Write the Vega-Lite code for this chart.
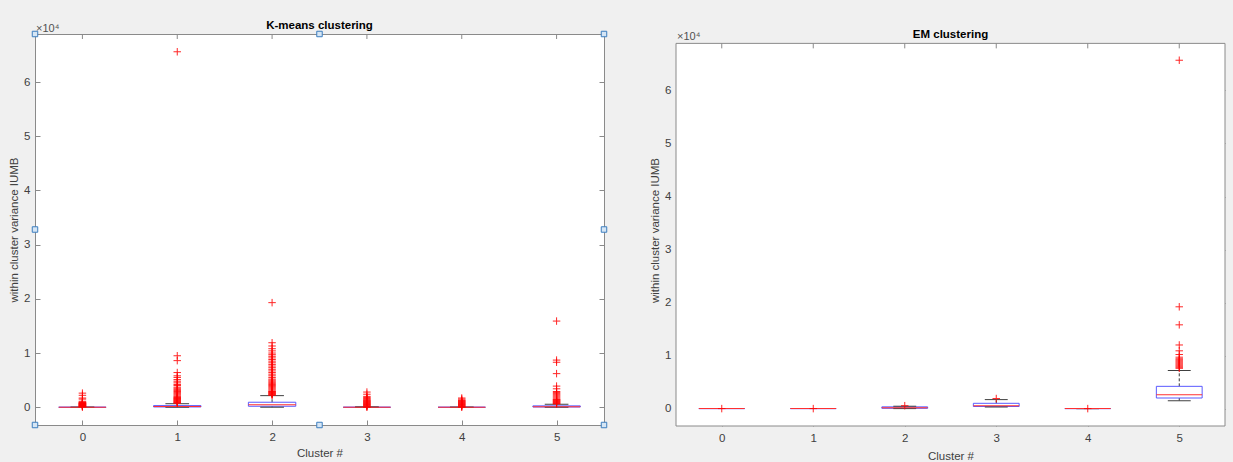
{
  "$schema": "https://vega.github.io/schema/vega-lite/v6.json",
  "background": "#f0f0f0",
  "padding": {"left": 8, "top": 19, "right": 15, "bottom": 0},
  "spacing": 39,
  "datasets": {
    "boxes": [
      {"method": "K-means", "cluster": 0, "lo": 0, "q1": 0, "med": 0, "q3": 0, "hi": 0},
      {"method": "K-means", "cluster": 1, "lo": 0, "q1": 50, "med": 150, "q3": 300, "hi": 650},
      {"method": "K-means", "cluster": 2, "lo": 0, "q1": 180, "med": 450, "q3": 920, "hi": 2140},
      {"method": "K-means", "cluster": 3, "lo": 0, "q1": 0, "med": 0, "q3": 0, "hi": 60},
      {"method": "K-means", "cluster": 4, "lo": 0, "q1": 0, "med": 0, "q3": 0, "hi": 0},
      {"method": "K-means", "cluster": 5, "lo": 0, "q1": 40, "med": 100, "q3": 250, "hi": 550},
      {"method": "EM", "cluster": 0, "lo": 0, "q1": 0, "med": 0, "q3": 0, "hi": 0},
      {"method": "EM", "cluster": 1, "lo": 0, "q1": 0, "med": 0, "q3": 0, "hi": 0},
      {"method": "EM", "cluster": 2, "lo": 0, "q1": 60, "med": 180, "q3": 330, "hi": 450},
      {"method": "EM", "cluster": 3, "lo": 300, "q1": 400, "med": 520, "q3": 1000, "hi": 1700},
      {"method": "EM", "cluster": 4, "lo": 0, "q1": 0, "med": 0, "q3": 0, "hi": 0},
      {"method": "EM", "cluster": 5, "lo": 1500, "q1": 2000, "med": 2600, "q3": 4200, "hi": 7200}
    ],
    "outliers": [
      {"method": "K-means", "cluster": 0, "value": 2600},
      {"method": "K-means", "cluster": 0, "value": 2200},
      {"method": "K-means", "cluster": 0, "value": 1700},
      {"method": "K-means", "cluster": 0, "value": 1500},
      {"method": "K-means", "cluster": 0, "value": 1100},
      {"method": "K-means", "cluster": 0, "value": 950},
      {"method": "K-means", "cluster": 0, "value": 850},
      {"method": "K-means", "cluster": 0, "value": 800},
      {"method": "K-means", "cluster": 0, "value": 750},
      {"method": "K-means", "cluster": 0, "value": 700},
      {"method": "K-means", "cluster": 0, "value": 650},
      {"method": "K-means", "cluster": 0, "value": 600},
      {"method": "K-means", "cluster": 0, "value": 550},
      {"method": "K-means", "cluster": 0, "value": 500},
      {"method": "K-means", "cluster": 0, "value": 450},
      {"method": "K-means", "cluster": 0, "value": 400},
      {"method": "K-means", "cluster": 0, "value": 350},
      {"method": "K-means", "cluster": 0, "value": 300},
      {"method": "K-means", "cluster": 0, "value": 250},
      {"method": "K-means", "cluster": 0, "value": 200},
      {"method": "K-means", "cluster": 0, "value": 150},
      {"method": "K-means", "cluster": 0, "value": 100},
      {"method": "K-means", "cluster": 0, "value": 50},
      {"method": "K-means", "cluster": 1, "value": 65600},
      {"method": "K-means", "cluster": 1, "value": 9500},
      {"method": "K-means", "cluster": 1, "value": 8600},
      {"method": "K-means", "cluster": 1, "value": 6400},
      {"method": "K-means", "cluster": 1, "value": 5800},
      {"method": "K-means", "cluster": 1, "value": 5500},
      {"method": "K-means", "cluster": 1, "value": 5100},
      {"method": "K-means", "cluster": 1, "value": 4800},
      {"method": "K-means", "cluster": 1, "value": 4500},
      {"method": "K-means", "cluster": 1, "value": 4200},
      {"method": "K-means", "cluster": 1, "value": 4000},
      {"method": "K-means", "cluster": 1, "value": 3700},
      {"method": "K-means", "cluster": 1, "value": 3500},
      {"method": "K-means", "cluster": 1, "value": 3300},
      {"method": "K-means", "cluster": 1, "value": 3100},
      {"method": "K-means", "cluster": 1, "value": 2900},
      {"method": "K-means", "cluster": 1, "value": 2700},
      {"method": "K-means", "cluster": 1, "value": 2500},
      {"method": "K-means", "cluster": 1, "value": 2300},
      {"method": "K-means", "cluster": 1, "value": 2100},
      {"method": "K-means", "cluster": 1, "value": 1950},
      {"method": "K-means", "cluster": 1, "value": 1800},
      {"method": "K-means", "cluster": 1, "value": 1700},
      {"method": "K-means", "cluster": 1, "value": 1600},
      {"method": "K-means", "cluster": 1, "value": 1500},
      {"method": "K-means", "cluster": 1, "value": 1400},
      {"method": "K-means", "cluster": 1, "value": 1300},
      {"method": "K-means", "cluster": 1, "value": 1200},
      {"method": "K-means", "cluster": 1, "value": 1100},
      {"method": "K-means", "cluster": 1, "value": 1000},
      {"method": "K-means", "cluster": 1, "value": 900},
      {"method": "K-means", "cluster": 1, "value": 800},
      {"method": "K-means", "cluster": 1, "value": 750},
      {"method": "K-means", "cluster": 2, "value": 19300},
      {"method": "K-means", "cluster": 2, "value": 11900},
      {"method": "K-means", "cluster": 2, "value": 11300},
      {"method": "K-means", "cluster": 2, "value": 10800},
      {"method": "K-means", "cluster": 2, "value": 10400},
      {"method": "K-means", "cluster": 2, "value": 10000},
      {"method": "K-means", "cluster": 2, "value": 9700},
      {"method": "K-means", "cluster": 2, "value": 9400},
      {"method": "K-means", "cluster": 2, "value": 9100},
      {"method": "K-means", "cluster": 2, "value": 8800},
      {"method": "K-means", "cluster": 2, "value": 8500},
      {"method": "K-means", "cluster": 2, "value": 8200},
      {"method": "K-means", "cluster": 2, "value": 7900},
      {"method": "K-means", "cluster": 2, "value": 7600},
      {"method": "K-means", "cluster": 2, "value": 7300},
      {"method": "K-means", "cluster": 2, "value": 7000},
      {"method": "K-means", "cluster": 2, "value": 6700},
      {"method": "K-means", "cluster": 2, "value": 6400},
      {"method": "K-means", "cluster": 2, "value": 6100},
      {"method": "K-means", "cluster": 2, "value": 5800},
      {"method": "K-means", "cluster": 2, "value": 5500},
      {"method": "K-means", "cluster": 2, "value": 5200},
      {"method": "K-means", "cluster": 2, "value": 5000},
      {"method": "K-means", "cluster": 2, "value": 4800},
      {"method": "K-means", "cluster": 2, "value": 4600},
      {"method": "K-means", "cluster": 2, "value": 4400},
      {"method": "K-means", "cluster": 2, "value": 4200},
      {"method": "K-means", "cluster": 2, "value": 4000},
      {"method": "K-means", "cluster": 2, "value": 3800},
      {"method": "K-means", "cluster": 2, "value": 3600},
      {"method": "K-means", "cluster": 2, "value": 3400},
      {"method": "K-means", "cluster": 2, "value": 3200},
      {"method": "K-means", "cluster": 2, "value": 3000},
      {"method": "K-means", "cluster": 2, "value": 2900},
      {"method": "K-means", "cluster": 2, "value": 2800},
      {"method": "K-means", "cluster": 2, "value": 2700},
      {"method": "K-means", "cluster": 2, "value": 2600},
      {"method": "K-means", "cluster": 2, "value": 2500},
      {"method": "K-means", "cluster": 2, "value": 2400},
      {"method": "K-means", "cluster": 2, "value": 2300},
      {"method": "K-means", "cluster": 2, "value": 2200},
      {"method": "K-means", "cluster": 3, "value": 2800},
      {"method": "K-means", "cluster": 3, "value": 2400},
      {"method": "K-means", "cluster": 3, "value": 2000},
      {"method": "K-means", "cluster": 3, "value": 1800},
      {"method": "K-means", "cluster": 3, "value": 1600},
      {"method": "K-means", "cluster": 3, "value": 1450},
      {"method": "K-means", "cluster": 3, "value": 1300},
      {"method": "K-means", "cluster": 3, "value": 1200},
      {"method": "K-means", "cluster": 3, "value": 1100},
      {"method": "K-means", "cluster": 3, "value": 1000},
      {"method": "K-means", "cluster": 3, "value": 900},
      {"method": "K-means", "cluster": 3, "value": 800},
      {"method": "K-means", "cluster": 3, "value": 700},
      {"method": "K-means", "cluster": 3, "value": 600},
      {"method": "K-means", "cluster": 3, "value": 500},
      {"method": "K-means", "cluster": 3, "value": 400},
      {"method": "K-means", "cluster": 3, "value": 300},
      {"method": "K-means", "cluster": 3, "value": 200},
      {"method": "K-means", "cluster": 3, "value": 100},
      {"method": "K-means", "cluster": 3, "value": 0},
      {"method": "K-means", "cluster": 4, "value": 1700},
      {"method": "K-means", "cluster": 4, "value": 1500},
      {"method": "K-means", "cluster": 4, "value": 1300},
      {"method": "K-means", "cluster": 4, "value": 1200},
      {"method": "K-means", "cluster": 4, "value": 1100},
      {"method": "K-means", "cluster": 4, "value": 1000},
      {"method": "K-means", "cluster": 4, "value": 900},
      {"method": "K-means", "cluster": 4, "value": 800},
      {"method": "K-means", "cluster": 4, "value": 700},
      {"method": "K-means", "cluster": 4, "value": 600},
      {"method": "K-means", "cluster": 4, "value": 500},
      {"method": "K-means", "cluster": 4, "value": 400},
      {"method": "K-means", "cluster": 4, "value": 300},
      {"method": "K-means", "cluster": 4, "value": 200},
      {"method": "K-means", "cluster": 4, "value": 100},
      {"method": "K-means", "cluster": 4, "value": 0},
      {"method": "K-means", "cluster": 5, "value": 15900},
      {"method": "K-means", "cluster": 5, "value": 8700},
      {"method": "K-means", "cluster": 5, "value": 8300},
      {"method": "K-means", "cluster": 5, "value": 6200},
      {"method": "K-means", "cluster": 5, "value": 3900},
      {"method": "K-means", "cluster": 5, "value": 3400},
      {"method": "K-means", "cluster": 5, "value": 2900},
      {"method": "K-means", "cluster": 5, "value": 2700},
      {"method": "K-means", "cluster": 5, "value": 2500},
      {"method": "K-means", "cluster": 5, "value": 2300},
      {"method": "K-means", "cluster": 5, "value": 2100},
      {"method": "K-means", "cluster": 5, "value": 1900},
      {"method": "K-means", "cluster": 5, "value": 1700},
      {"method": "K-means", "cluster": 5, "value": 1500},
      {"method": "K-means", "cluster": 5, "value": 1400},
      {"method": "K-means", "cluster": 5, "value": 1300},
      {"method": "K-means", "cluster": 5, "value": 1200},
      {"method": "K-means", "cluster": 5, "value": 1100},
      {"method": "K-means", "cluster": 5, "value": 1000},
      {"method": "K-means", "cluster": 5, "value": 900},
      {"method": "K-means", "cluster": 5, "value": 800},
      {"method": "K-means", "cluster": 5, "value": 700},
      {"method": "K-means", "cluster": 5, "value": 600},
      {"method": "EM", "cluster": 0, "value": 0},
      {"method": "EM", "cluster": 1, "value": 0},
      {"method": "EM", "cluster": 2, "value": 550},
      {"method": "EM", "cluster": 3, "value": 1900},
      {"method": "EM", "cluster": 4, "value": 0},
      {"method": "EM", "cluster": 5, "value": 65700},
      {"method": "EM", "cluster": 5, "value": 19200},
      {"method": "EM", "cluster": 5, "value": 15800},
      {"method": "EM", "cluster": 5, "value": 12000},
      {"method": "EM", "cluster": 5, "value": 10900},
      {"method": "EM", "cluster": 5, "value": 10200},
      {"method": "EM", "cluster": 5, "value": 9700},
      {"method": "EM", "cluster": 5, "value": 9400},
      {"method": "EM", "cluster": 5, "value": 9200},
      {"method": "EM", "cluster": 5, "value": 9000},
      {"method": "EM", "cluster": 5, "value": 8800},
      {"method": "EM", "cluster": 5, "value": 8600},
      {"method": "EM", "cluster": 5, "value": 8400},
      {"method": "EM", "cluster": 5, "value": 8200},
      {"method": "EM", "cluster": 5, "value": 8000},
      {"method": "EM", "cluster": 5, "value": 7800},
      {"method": "EM", "cluster": 5, "value": 7600}
    ],
    "handles": [
      {"hx": -0.5, "hy": 68880}, {"hx": 2.5, "hy": 68880}, {"hx": 5.5, "hy": 68880},
      {"hx": -0.5, "hy": 32800}, {"hx": 5.5, "hy": 32800},
      {"hx": -0.5, "hy": -3280}, {"hx": 2.5, "hy": -3280}, {"hx": 5.5, "hy": -3280}
    ],
    "titles": [
      {"method": "K-means", "title": "K-means clustering", "exp": "×10⁴"},
      {"method": "EM", "title": "EM clustering", "exp": "×10⁴"}
    ]
  },
  "hconcat": [
    {
      "width": 569,
      "height": 391,
      "resolve": {"axis": {"y": "independent"}},
      "layer": [
        {
          "data": {"name": "boxes"},
          "transform": [{"filter": "datum.method === 'K-means'"}],
          "mark": {"type": "rule", "color": "#000000", "strokeWidth": 0.8, "strokeDash": [3, 2]},
          "encoding": {
            "x": {"field": "cluster", "type": "quantitative", "scale": {"domain": [-0.5, 5.5], "nice": false, "zero": false, "padding": 0}, "axis": {"orient": "bottom", "values": [0, 1, 2, 3, 4, 5], "format": "d", "title": "Cluster #"}},
            "y": {"field": "lo", "type": "quantitative", "scale": {"domain": [-3280, 68880], "nice": false, "zero": false, "padding": 0}, "axis": {"orient": "left", "values": [0, 10000, 20000, 30000, 40000, 50000, 60000], "labelExpr": "datum.value / 10000", "title": "within cluster variance IUMB"}},
            "y2": {"field": "q1"}
          }
        },
        {
          "data": {"name": "boxes"},
          "transform": [{"filter": "datum.method === 'K-means'"}],
          "mark": {"type": "rule", "color": "#000000", "strokeWidth": 0.8, "strokeDash": [3, 2]},
          "encoding": {
            "x": {"field": "cluster", "type": "quantitative"},
            "y": {"field": "q3", "type": "quantitative", "axis": {"orient": "right", "values": [0, 10000, 20000, 30000, 40000, 50000, 60000], "labels": false, "title": null}},
            "y2": {"field": "hi"}
          }
        },
        {
          "data": {"name": "boxes"},
          "transform": [{"filter": "datum.method === 'K-means'"}],
          "mark": {"type": "rule", "color": "#8a8a8a", "strokeWidth": 1},
          "encoding": {
            "x": {"field": "cluster", "type": "quantitative"},
            "y": {"datum": 68880, "type": "quantitative", "axis": null},
            "y2": {"datum": 67957}
          }
        },
        {
          "data": {"name": "boxes"},
          "transform": [{"filter": "datum.method === 'K-means'"}],
          "mark": {"type": "bar", "size": 47.4, "fillOpacity": 0, "stroke": "#5a5aff", "strokeWidth": 1},
          "encoding": {
            "x": {"field": "cluster", "type": "quantitative"},
            "y": {"field": "q1", "type": "quantitative", "axis": null},
            "y2": {"field": "q3"}
          }
        },
        {
          "data": {"name": "boxes"},
          "transform": [{"filter": "datum.method === 'K-means'"}],
          "mark": {"type": "tick", "orient": "horizontal", "size": 23.7, "thickness": 1, "color": "#404040", "opacity": 1},
          "encoding": {
            "x": {"field": "cluster", "type": "quantitative"},
            "y": {"field": "hi", "type": "quantitative", "axis": null}
          }
        },
        {
          "data": {"name": "boxes"},
          "transform": [{"filter": "datum.method === 'K-means'"}],
          "mark": {"type": "tick", "orient": "horizontal", "size": 23.7, "thickness": 1, "color": "#404040", "opacity": 1},
          "encoding": {
            "x": {"field": "cluster", "type": "quantitative"},
            "y": {"field": "lo", "type": "quantitative", "axis": null}
          }
        },
        {
          "data": {"name": "boxes"},
          "transform": [{"filter": "datum.method === 'K-means'"}],
          "mark": {"type": "tick", "orient": "horizontal", "size": 47.4, "thickness": 1, "color": "#ff3030", "opacity": 1},
          "encoding": {
            "x": {"field": "cluster", "type": "quantitative"},
            "y": {"field": "med", "type": "quantitative", "axis": null}
          }
        },
        {
          "data": {"name": "outliers"},
          "transform": [{"filter": "datum.method === 'K-means'"}],
          "mark": {"type": "point", "shape": "M-1,0L1,0M0,-1L0,1", "size": 56, "filled": false, "stroke": "#ff0000", "strokeWidth": 1, "opacity": 0.85},
          "encoding": {
            "x": {"field": "cluster", "type": "quantitative"},
            "y": {"field": "value", "type": "quantitative", "axis": null}
          }
        },
        {
          "data": {"name": "titles"},
          "transform": [{"filter": "datum.method === 'K-means'"}],
          "mark": {"type": "text", "align": "left", "baseline": "alphabetic", "dx": 1, "dy": -2.5, "font": "Liberation Sans", "fontSize": 11, "color": "#505050"},
          "encoding": {
            "x": {"datum": -0.5, "type": "quantitative"},
            "y": {"datum": 68880, "type": "quantitative", "axis": null},
            "text": {"field": "exp"}
          }
        },
        {
          "data": {"name": "titles"},
          "transform": [{"filter": "datum.method === 'K-means'"}],
          "mark": {"type": "text", "align": "center", "baseline": "alphabetic", "dy": -5, "font": "Liberation Sans", "fontSize": 11.5, "fontWeight": "bold", "color": "#000000"},
          "encoding": {
            "x": {"datum": 2.5, "type": "quantitative"},
            "y": {"datum": 68880, "type": "quantitative", "axis": null},
            "text": {"field": "title"}
          }
        },
        {
          "data": {"name": "handles"},
          "mark": {"type": "point", "shape": "square", "size": 30, "filled": true, "fill": "#d6e6f5", "stroke": "#3d7ebf", "strokeWidth": 1, "opacity": 1},
          "encoding": {
            "x": {"field": "hx", "type": "quantitative"},
            "y": {"field": "hy", "type": "quantitative", "axis": null}
          }
        }
      ]
    },
    {
      "width": 549,
      "height": 392,
      "view": {"fill": null, "stroke": null},
      "resolve": {"axis": {"y": "independent"}},
      "layer": [
        {
          "data": {"name": "titles"},
          "transform": [{"filter": "datum.method === 'EM'"}],
          "mark": {"type": "rect", "fill": "#ffffff", "stroke": "#8a8a8a", "strokeWidth": 1},
          "encoding": {
            "x": {"datum": -0.5, "type": "quantitative", "scale": {"domain": [-0.5, 5.5], "nice": false, "zero": false, "padding": 0}, "axis": {"orient": "bottom", "values": [0, 1, 2, 3, 4, 5], "format": "d", "title": "Cluster #", "titlePadding": 7}},
            "x2": {"datum": 5.5},
            "y": {"datum": -3280, "type": "quantitative", "scale": {"domain": [-3280, 70650], "nice": false, "zero": false, "padding": 0}, "axis": {"orient": "left", "values": [0, 10000, 20000, 30000, 40000, 50000, 60000], "labelExpr": "datum.value / 10000", "title": "within cluster variance IUMB"}},
            "y2": {"datum": 68880}
          }
        },
        {
          "data": {"name": "boxes"},
          "transform": [{"filter": "datum.method === 'EM'"}],
          "mark": {"type": "rule", "color": "#000000", "strokeWidth": 0.8, "strokeDash": [3, 2]},
          "encoding": {
            "x": {"field": "cluster", "type": "quantitative"},
            "y": {"field": "lo", "type": "quantitative", "axis": {"orient": "right", "values": [0, 10000, 20000, 30000, 40000, 50000, 60000], "labels": false, "title": null}},
            "y2": {"field": "q1"}
          }
        },
        {
          "data": {"name": "boxes"},
          "transform": [{"filter": "datum.method === 'EM'"}],
          "mark": {"type": "rule", "color": "#000000", "strokeWidth": 0.8, "strokeDash": [3, 2]},
          "encoding": {
            "x": {"field": "cluster", "type": "quantitative"},
            "y": {"field": "q3", "type": "quantitative", "axis": null},
            "y2": {"field": "hi"}
          }
        },
        {
          "data": {"name": "boxes"},
          "transform": [{"filter": "datum.method === 'EM'"}],
          "mark": {"type": "rule", "color": "#8a8a8a", "strokeWidth": 1},
          "encoding": {
            "x": {"field": "cluster", "type": "quantitative"},
            "y": {"datum": 68880, "type": "quantitative", "axis": null},
            "y2": {"datum": 67940}
          }
        },
        {
          "data": {"name": "boxes"},
          "transform": [{"filter": "datum.method === 'EM'"}],
          "mark": {"type": "bar", "size": 45.8, "fillOpacity": 0, "stroke": "#5a5aff", "strokeWidth": 1},
          "encoding": {
            "x": {"field": "cluster", "type": "quantitative"},
            "y": {"field": "q1", "type": "quantitative", "axis": null},
            "y2": {"field": "q3"}
          }
        },
        {
          "data": {"name": "boxes"},
          "transform": [{"filter": "datum.method === 'EM'"}],
          "mark": {"type": "tick", "orient": "horizontal", "size": 22.9, "thickness": 1, "color": "#404040", "opacity": 1},
          "encoding": {
            "x": {"field": "cluster", "type": "quantitative"},
            "y": {"field": "hi", "type": "quantitative", "axis": null}
          }
        },
        {
          "data": {"name": "boxes"},
          "transform": [{"filter": "datum.method === 'EM'"}],
          "mark": {"type": "tick", "orient": "horizontal", "size": 22.9, "thickness": 1, "color": "#404040", "opacity": 1},
          "encoding": {
            "x": {"field": "cluster", "type": "quantitative"},
            "y": {"field": "lo", "type": "quantitative", "axis": null}
          }
        },
        {
          "data": {"name": "boxes"},
          "transform": [{"filter": "datum.method === 'EM'"}],
          "mark": {"type": "tick", "orient": "horizontal", "size": 45.8, "thickness": 1, "color": "#ff3030", "opacity": 1},
          "encoding": {
            "x": {"field": "cluster", "type": "quantitative"},
            "y": {"field": "med", "type": "quantitative", "axis": null}
          }
        },
        {
          "data": {"name": "outliers"},
          "transform": [{"filter": "datum.method === 'EM'"}],
          "mark": {"type": "point", "shape": "M-1,0L1,0M0,-1L0,1", "size": 56, "filled": false, "stroke": "#ff0000", "strokeWidth": 1, "opacity": 0.85},
          "encoding": {
            "x": {"field": "cluster", "type": "quantitative"},
            "y": {"field": "value", "type": "quantitative", "axis": null}
          }
        },
        {
          "data": {"name": "titles"},
          "transform": [{"filter": "datum.method === 'EM'"}],
          "mark": {"type": "text", "align": "left", "baseline": "alphabetic", "dx": 1, "dy": -3, "font": "Liberation Sans", "fontSize": 11, "color": "#505050"},
          "encoding": {
            "x": {"datum": -0.5, "type": "quantitative"},
            "y": {"datum": 68880, "type": "quantitative", "axis": null},
            "text": {"field": "exp"}
          }
        },
        {
          "data": {"name": "titles"},
          "transform": [{"filter": "datum.method === 'EM'"}],
          "mark": {"type": "text", "align": "center", "baseline": "alphabetic", "dy": -5.7, "font": "Liberation Sans", "fontSize": 11.5, "fontWeight": "bold", "color": "#000000"},
          "encoding": {
            "x": {"datum": 2.5, "type": "quantitative"},
            "y": {"datum": 68880, "type": "quantitative", "axis": null},
            "text": {"field": "title"}
          }
        }
      ]
    }
  ],
  "config": {
    "view": {"stroke": "#8a8a8a", "strokeWidth": 1, "fill": "#ffffff"},
    "axis": {
      "domain": false,
      "grid": false,
      "ticks": true,
      "tickSize": -5,
      "tickColor": "#8a8a8a",
      "tickWidth": 1,
      "zindex": 1,
      "labelFont": "Liberation Sans",
      "labelFontSize": 11.5,
      "labelColor": "#404040",
      "titleFont": "Liberation Sans",
      "titleFontSize": 11.5,
      "titleFontWeight": "normal",
      "titleColor": "#404040"
    },
    "axisX": {"labelPadding": 11, "titlePadding": 5},
    "axisY": {"labelPadding": 10, "titlePadding": 4}
  }
}
